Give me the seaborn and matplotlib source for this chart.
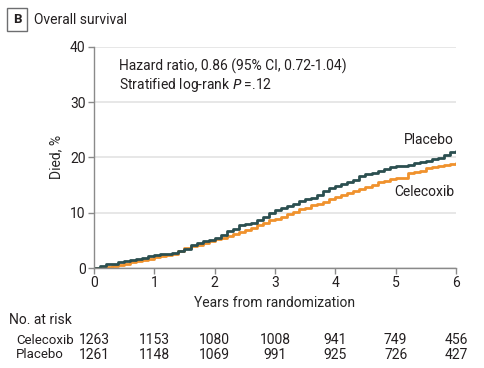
import matplotlib
matplotlib.use("Agg")
import matplotlib.pyplot as plt
import matplotlib.transforms as mtransforms
import pandas as pd
import seaborn as sns

# Cumulative deaths (%) at 0.1-year steps
years = [round(0.1 * i, 1) for i in range(61)]
placebo = [
    0.0, 0.4, 0.7, 0.8, 1.1, 1.3, 1.4, 1.6, 1.75, 2.2,
    2.4, 2.45, 2.6, 2.7, 3.0, 3.5, 4.1, 4.5, 4.8, 5.0,
    5.5, 6.0, 6.6, 7.1, 7.7, 8.0, 8.1, 8.6, 9.3, 9.9,
    10.4, 10.8, 11.2, 11.6, 12.2, 12.5, 12.7, 13.2, 13.9, 14.4,
    14.8, 15.1, 15.5, 15.9, 16.6, 17.0, 17.2, 17.6, 17.9, 18.2,
    18.4, 18.5, 18.7, 19.0, 19.2, 19.4, 19.7, 19.9, 20.5, 20.9,
    21.2,
]
celecoxib = [
    0.0, 0.05, 0.2, 0.4, 0.5, 0.8, 1.1, 1.3, 1.45, 1.7,
    1.9, 2.1, 2.3, 2.6, 3.0, 3.6, 3.9, 4.2, 4.45, 4.9,
    5.3, 5.5, 5.7, 6.1, 6.5, 6.9, 7.3, 7.8, 8.2, 8.6,
    8.9, 9.3, 9.7, 10.1, 10.6, 10.9, 11.4, 11.6, 11.9, 12.5,
    12.9, 13.2, 13.6, 14.0, 14.3, 14.6, 15.0, 15.5, 15.8, 16.0,
    16.2, 16.3, 17.1, 17.3, 17.6, 18.0, 18.2, 18.4, 18.6, 18.8,
    19.0,
]

risk_years = [0, 1, 2, 3, 4, 5, 6]
risk_celecoxib = [1263, 1153, 1080, 1008, 941, 749, 456]
risk_placebo = [1261, 1148, 1069, 991, 925, 726, 427]

PLACEBO_COLOR = "#2b4f50"
CELECOXIB_COLOR = "#f0922d"
TEXT_COLOR = "#231f20"

df = pd.concat([
    pd.DataFrame({"Years": years, "Died": celecoxib, "Group": "Celecoxib"}),
    pd.DataFrame({"Years": years, "Died": placebo, "Group": "Placebo"}),
])

sns.set_theme(style="white")
plt.rcParams["font.family"] = ["Roboto", "DejaVu Sans"]
plt.rcParams["text.color"] = TEXT_COLOR

fig = plt.figure(figsize=(4.85, 3.68), dpi=100)
ax = fig.add_axes([94 / 485, 1 - 268 / 368, (456 - 94) / 485, (268 - 46.7) / 368])

sns.lineplot(
    data=df, x="Years", y="Died", hue="Group",
    palette={"Celecoxib": CELECOXIB_COLOR, "Placebo": PLACEBO_COLOR},
    hue_order=["Celecoxib", "Placebo"],
    drawstyle="steps-post", linewidth=2.0, legend=False, ax=ax,
)

ax.set_xlim(0, 6)
ax.set_ylim(0, 40)
ax.set_xticks(range(7))
ax.set_yticks(range(0, 41, 10))
ax.yaxis.grid(True, color="#e3e3e3", linewidth=1.2)
ax.set_axisbelow(True)
for side in ["top", "right"]:
    ax.spines[side].set_visible(False)
for side in ["left", "bottom"]:
    ax.spines[side].set_color("#8a8a8a")
    ax.spines[side].set_linewidth(1.0)
ax.tick_params(axis="both", direction="out", length=4, width=1.0, color="#8a8a8a",
               labelsize=10, labelcolor=TEXT_COLOR, pad=2, bottom=True, left=True)
ax.set_xlabel("Years from randomization", fontsize=10, labelpad=4)
ax.set_ylabel("Died, %", fontsize=10, labelpad=5)

ax.text(0.41, 36.4, "Hazard ratio, 0.86 (95% CI, 0.72-1.04)", fontsize=10, va="center")
ax.text(0.41, 33.1, "Stratified log-rank $\\mathit{P}$ =.12", fontsize=10, va="center")
ax.text(5.97, 23.1, "Placebo", fontsize=10, ha="right", va="center")
ax.text(5.97, 13.7, "Celecoxib", fontsize=10, ha="right", va="center")

# Panel label
fig.text(17 / 485, 1 - 19.5 / 368, "B", fontsize=9.5, fontweight="bold", ha="center", va="center",
         bbox=dict(boxstyle="square,pad=0.4", facecolor="white", edgecolor="#6d6e70", linewidth=1.0))
fig.text(34 / 485, 1 - 19.5 / 368, "Overall survival", fontsize=10, va="center")

# Number at risk table
trans = mtransforms.blended_transform_factory(ax.transData, fig.transFigure)
fig.text(9 / 485, 1 - 320 / 368, "No. at risk", fontsize=10, va="center")
fig.text(16 / 485, 1 - 340 / 368, "Celecoxib", fontsize=9.5, va="center")
fig.text(16 / 485, 1 - 355 / 368, "Placebo", fontsize=9.5, va="center")
for x, c, p in zip(risk_years, risk_celecoxib, risk_placebo):
    ax.text(x, 1 - 340 / 368, str(c), transform=trans, fontsize=10, ha="center", va="center")
    ax.text(x, 1 - 355 / 368, str(p), transform=trans, fontsize=10, ha="center", va="center")

fig.savefig("out.png", dpi=100)
